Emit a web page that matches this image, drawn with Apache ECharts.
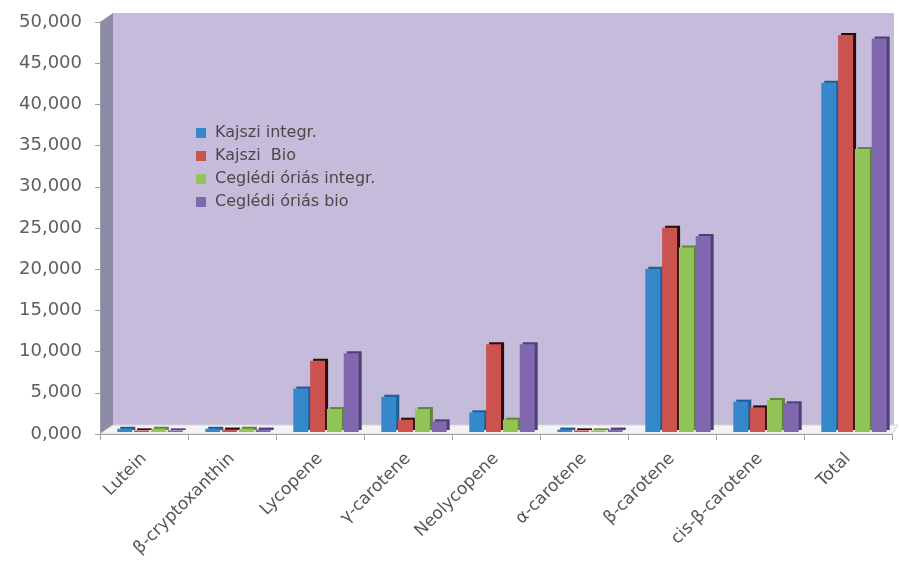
<!DOCTYPE html>
<html>
<head>
<meta charset="utf-8">
<script src="https://cdn.jsdelivr.net/npm/echarts@6/dist/echarts.min.js"></script>
<style>
  html, body { margin: 0; padding: 0; background: #ffffff; }
  #chart { width: 899px; height: 566px; }
</style>
</head>
<body>
<div id="chart"></div>
<script>
// Carotenoid content by sample
const categories = ['Lutein', 'β-cryptoxanthin', 'Lycopene', 'γ-carotene', 'Neolycopene',
  'α-carotene', 'β-carotene', 'cis-β-carotene', 'Total'];

const seriesNames = ['Kajszi integr.', 'Kajszi  Bio', 'Ceglédi óriás integr.', 'Ceglédi óriás bio'];

const kajsziIntegr = [400, 400, 5300, 4300, 2400, 300, 19900, 3700, 42600];
const kajsziBio = [200, 300, 8700, 1500, 10700, 200, 24900, 3000, 48400];
const ceglediIntegr = [400, 400, 2800, 2800, 1500, 200, 22500, 3900, 34500];
const ceglediBio = [200, 300, 9600, 1300, 10700, 300, 23900, 3500, 48000];

const yTickLabels = ['0,000', '5,000', '10,000', '15,000', '20,000', '25,000',
  '30,000', '35,000', '40,000', '45,000', '50,000'];

const colors = ['#3588cc', '#cc5250', '#93c45a', '#7f68ae'];
const sideColors = ['#1d5f93', '#2a0e0e', '#5f8a33', '#4f3f78'];

// plot frame
const G = { left: 100, right: 7, top: 22, bottom: 132 };
const W = 899, H = 566;
const depthX = 13, depthY = 9;
const x0 = G.left, x1 = W - G.right, y0 = G.top, y1 = H - G.bottom;
// columns stand half-way into the depth of the box
const colShiftX = 6, colShiftY = 2;

const FONT = 'DejaVu Sans';

const chart = echarts.init(document.getElementById('chart'));

const values = [kajsziIntegr, kajsziBio, ceglediIntegr, ceglediBio];

chart.setOption({
  backgroundColor: '#ffffff',
  animation: false,
  textStyle: { fontFamily: FONT },
  graphic: [
    // back wall
    { type: 'polygon', z: -10, silent: true,
      shape: { points: [[x0 + depthX, y0 - depthY], [x1 + 2, y0 - depthY], [x1 + 2, y1 - depthY], [x0 + depthX, y1 - depthY]] },
      style: { fill: '#c4bcda' } },
    // left side wall
    { type: 'polygon', z: -9, silent: true,
      shape: { points: [[x0, y0], [x0 + depthX, y0 - depthY], [x0 + depthX, y1 - depthY], [x0, y1]] },
      style: { fill: '#8d8ca6' } },
    // floor
    { type: 'polygon', z: -9, silent: true,
      shape: { points: [[x0, y1], [x0 + depthX, y1 - depthY], [x1 + 6, y1 - depthY], [x1, y1]] },
      style: { fill: '#f4f4f6', stroke: '#d6d6dc', lineWidth: 1 } }
  ],
  legend: {
    orient: 'vertical',
    left: 191,
    top: 120,
    itemWidth: 10,
    itemHeight: 10,
    itemGap: 7,
    icon: 'rect',
    data: seriesNames,
    textStyle: { fontSize: 16, color: '#4a4a4a', fontFamily: FONT, padding: [0, 0, 0, 4] }
  },
  grid: [
    { left: G.left, right: G.right, top: G.top, bottom: G.bottom },
    { left: G.left + colShiftX, right: G.right - colShiftX, top: G.top, bottom: G.bottom + colShiftY }
  ],
  xAxis: [
    {
      type: 'category',
      gridIndex: 0,
      data: categories,
      axisLine: { lineStyle: { color: '#a0a0a8', width: 1 } },
      axisTick: { show: true, length: 6, lineStyle: { color: '#a0a0a8' } },
      axisLabel: {
        rotate: 45,
        margin: 22,
        fontSize: 17,
        color: '#555555',
        fontFamily: FONT
      }
    },
    { type: 'category', gridIndex: 1, data: categories, show: false }
  ],
  yAxis: [
    {
      type: 'value',
      gridIndex: 0,
      min: 0,
      max: 50000,
      interval: 5000,
      splitLine: { show: false },
      axisLine: { show: true, lineStyle: { color: '#a0a0a8', width: 1 } },
      axisTick: { show: true, length: 5, lineStyle: { color: '#a0a0a8' } },
      axisLabel: {
        margin: 18,
        fontSize: 18,
        color: '#5e5e5e',
        fontFamily: FONT,
        formatter: function (v) { return yTickLabels[Math.round(v / 5000)]; }
      }
    },
    { type: 'value', gridIndex: 1, min: 0, max: 50000, interval: 5000, show: false, splitLine: { show: false } }
  ],
  series: seriesNames.map(function (name, i) {
    return {
      name: name,
      type: 'bar',
      xAxisIndex: 1,
      yAxisIndex: 1,
      data: values[i],
      barWidth: 15,
      barGap: '12%',
      itemStyle: {
        color: colors[i],
        shadowColor: sideColors[i],
        shadowOffsetX: 3,
        shadowOffsetY: -2,
        shadowBlur: 0
      }
    };
  })
});
</script>
</body>
</html>
